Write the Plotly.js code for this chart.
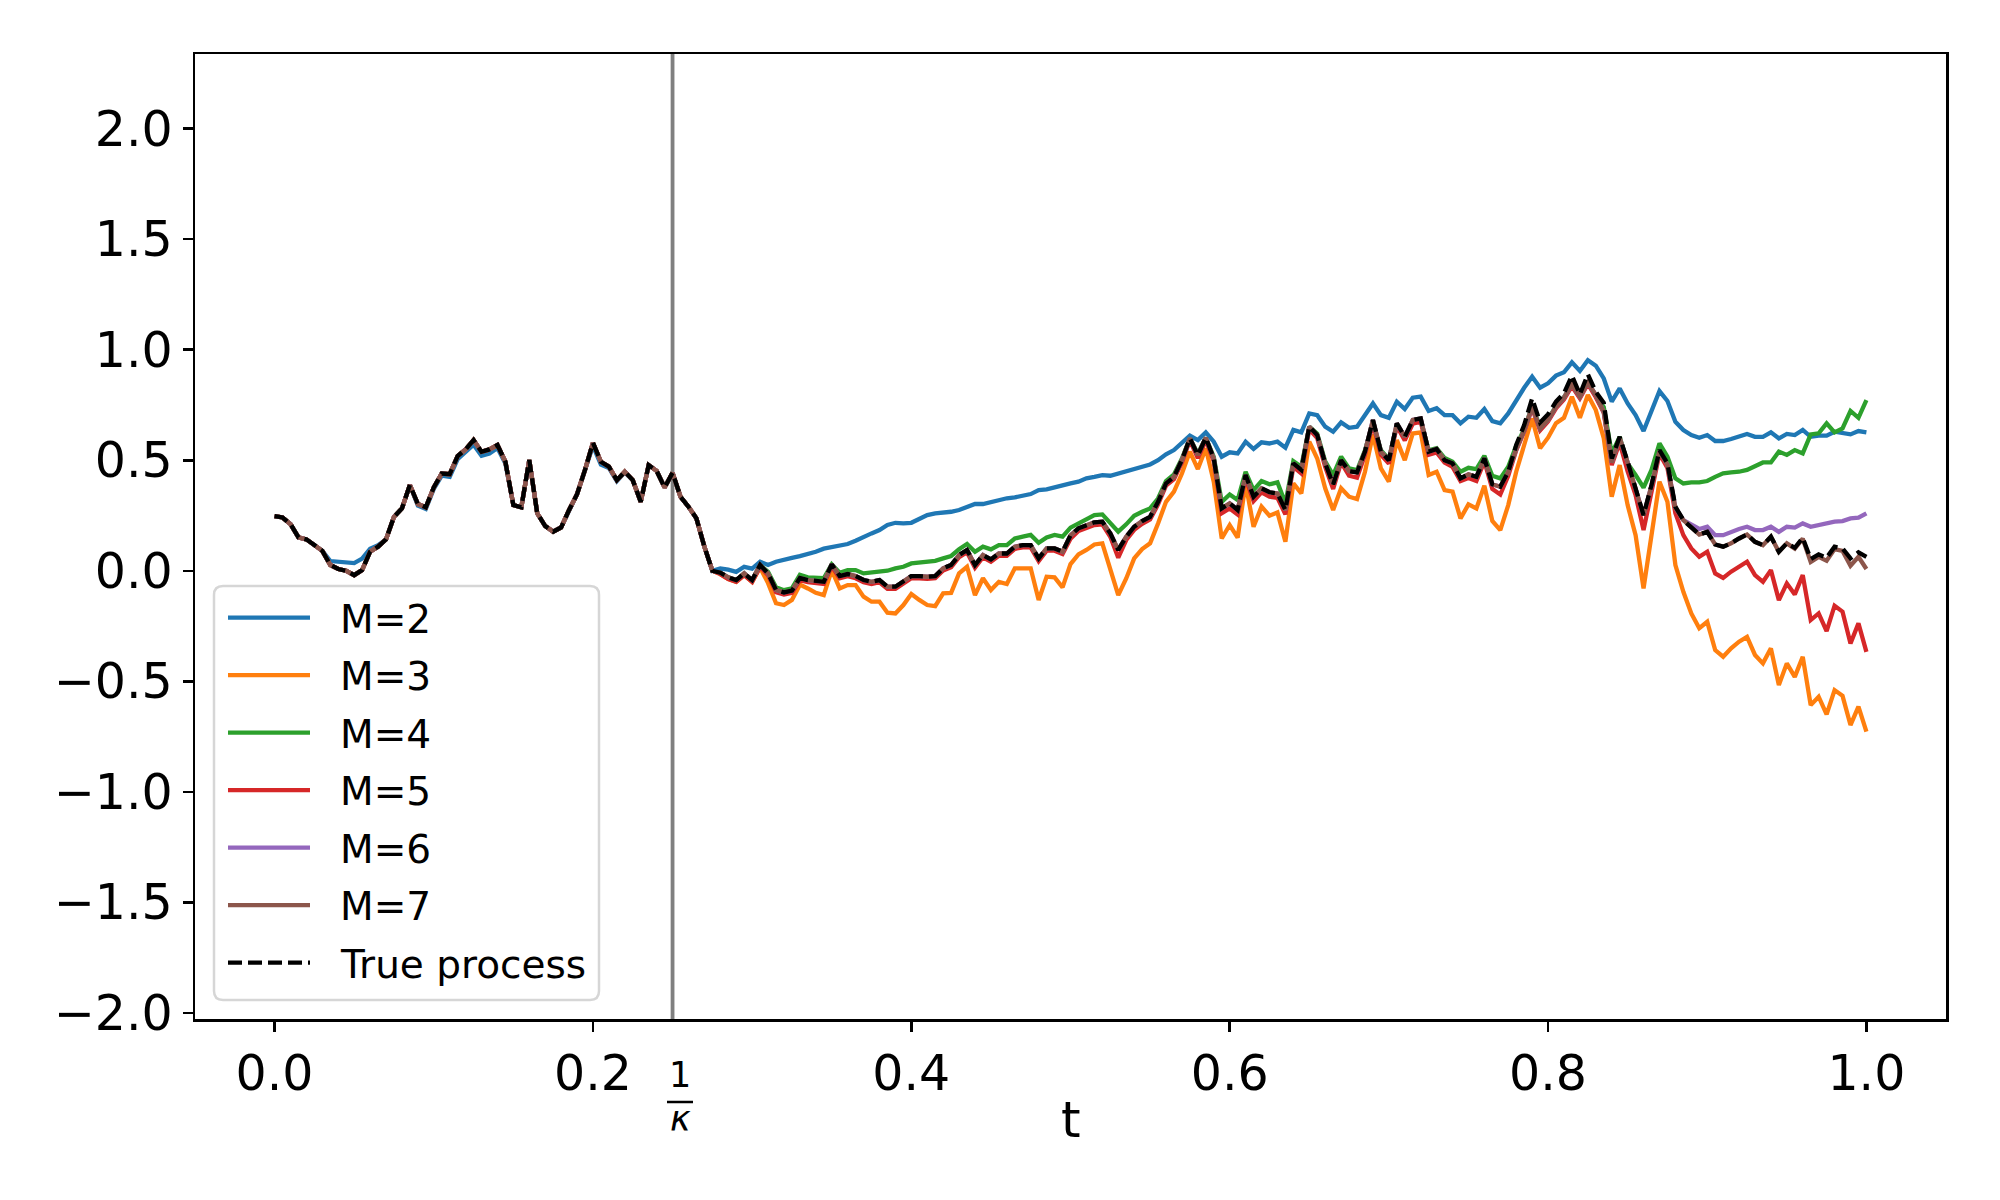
<!DOCTYPE html>
<html>
<head>
<meta charset="utf-8">
<script src="https://cdn.plot.ly/plotly-3.0.1.min.js"></script>
<style>body{margin:0;background:#fff}</style>
</head>
<body>
<div id="myPlot" style="width:2000px;height:1200px"></div>
<script>
// path sampled every dt on [0, 1]; every curve follows the true path up to t = 0.275
const dt = 0.005;
const kappaInv = 0.25;

// t = 0 .. 0.275 (shared by M=3..7 and the true process)
const pathHead = [
  0.247,0.241,0.211,0.151,0.142,0.116,0.09,0.026,0.008,0.0,
  -0.02,0.003,0.086,0.109,0.142,0.244,0.282,0.388,0.302,0.287,
  0.377,0.44,0.437,0.519,0.549,0.591,0.538,0.549,0.569,0.493,
  0.297,0.287,0.501,0.26,0.202,0.177,0.196,0.275,0.346,0.456,
  0.579,0.493,0.471,0.41,0.448,0.41,0.312,0.478,0.452,0.377,
  0.443,0.335,0.29,0.237,0.109,0.0
];
const m2Head = [
  0.247,0.241,0.211,0.151,0.142,0.116,0.09,0.044,0.04,0.04,
  0.035,0.055,0.1,0.115,0.142,0.244,0.282,0.388,0.295,0.28,
  0.37,0.43,0.425,0.505,0.535,0.57,0.52,0.53,0.555,0.485,
  0.297,0.287,0.501,0.26,0.202,0.177,0.196,0.275,0.346,0.456,
  0.565,0.48,0.465,0.405,0.445,0.41,0.312,0.478,0.452,0.377,
  0.443,0.335,0.29,0.237,0.109,0.0
];

// t = 0.28 .. 1.0
const trueTail = [
  -0.009,-0.03,-0.042,-0.012,-0.042,0.026,-0.012,-0.087,-0.098,-0.09,
  -0.033,-0.042,-0.047,-0.05,0.029,-0.024,-0.015,-0.024,-0.042,-0.05,
  -0.042,-0.072,-0.072,-0.05,-0.024,-0.024,-0.027,-0.024,0.011,0.026,
  0.071,0.094,0.026,0.071,0.051,0.078,0.078,0.109,0.116,0.116,
  0.056,0.101,0.101,0.086,0.16,0.192,0.207,0.219,0.222,0.169,
  0.094,0.154,0.199,0.225,0.244,0.312,0.395,0.425,0.501,0.599,
  0.523,0.602,0.508,0.282,0.305,0.275,0.433,0.335,0.373,0.355,
  0.35,0.275,0.486,0.456,0.652,0.614,0.486,0.391,0.5,0.451,
  0.445,0.539,0.682,0.539,0.5,0.667,0.606,0.682,0.689,0.539,
  0.551,0.5,0.486,0.418,0.436,0.425,0.508,0.391,0.38,0.448,
  0.569,0.659,0.78,0.671,0.708,0.765,0.803,0.883,0.798,0.889,
  0.81,0.76,0.508,0.606,0.493,0.373,0.252,0.388,0.546,0.486,
  0.29,0.229,0.199,0.164,0.176,0.119,0.109,0.124,0.146,0.164,
  0.131,0.116,0.154,0.086,0.124,0.104,0.149,0.053,0.074,0.059,
  0.109,0.101,0.056,0.083,0.063
];
const m2Tail = [
  0.01,0.005,-0.005,0.018,0.01,0.041,0.026,0.041,0.052,0.058,
  0.066,0.075,0.086,0.1,0.106,0.112,0.121,0.136,0.154,0.169,
  0.184,0.207,0.217,0.214,0.217,0.232,0.252,0.26,0.263,0.267,
  0.275,0.29,0.302,0.302,0.312,0.32,0.328,0.332,0.338,0.347,
  0.365,0.368,0.377,0.388,0.395,0.403,0.418,0.425,0.433,0.43,
  0.44,0.448,0.46,0.471,0.481,0.5,0.527,0.546,0.576,0.611,
  0.591,0.626,0.584,0.516,0.536,0.531,0.584,0.551,0.581,0.576,
  0.584,0.557,0.637,0.626,0.712,0.704,0.652,0.629,0.671,0.647,
  0.652,0.704,0.757,0.704,0.692,0.765,0.732,0.783,0.788,0.723,
  0.735,0.704,0.704,0.667,0.697,0.692,0.732,0.677,0.667,0.712,
  0.772,0.828,0.878,0.828,0.848,0.883,0.898,0.943,0.904,0.953,
  0.928,0.87,0.765,0.825,0.757,0.704,0.632,0.72,0.813,0.768,
  0.674,0.637,0.614,0.602,0.614,0.587,0.587,0.596,0.606,0.619,
  0.606,0.606,0.626,0.599,0.619,0.614,0.637,0.606,0.611,0.611,
  0.629,0.622,0.617,0.632,0.626
];
const m3Tail = [
  -0.015,-0.038,-0.05,-0.02,-0.05,0.015,-0.056,-0.147,-0.155,-0.132,
  -0.063,-0.08,-0.1,-0.11,0.003,-0.08,-0.065,-0.065,-0.117,-0.14,
  -0.14,-0.19,-0.193,-0.155,-0.105,-0.132,-0.155,-0.16,-0.102,-0.1,
  -0.012,0.018,-0.11,-0.034,-0.087,-0.05,-0.06,0.011,0.011,0.011,
  -0.132,-0.027,-0.03,-0.075,0.03,0.074,0.094,0.119,0.124,0.011,
  -0.11,-0.035,0.056,0.098,0.124,0.214,0.312,0.358,0.44,0.539,
  0.46,0.554,0.403,0.146,0.207,0.15,0.395,0.199,0.29,0.249,
  0.264,0.131,0.395,0.35,0.584,0.508,0.373,0.275,0.373,0.335,
  0.324,0.448,0.617,0.463,0.403,0.591,0.5,0.621,0.626,0.433,
  0.448,0.365,0.358,0.237,0.3,0.282,0.385,0.225,0.184,0.297,
  0.448,0.569,0.689,0.554,0.602,0.667,0.692,0.787,0.692,0.795,
  0.727,0.6,0.335,0.478,0.297,0.161,-0.08,0.161,0.403,0.312,
  0.026,-0.095,-0.193,-0.26,-0.231,-0.359,-0.389,-0.351,-0.321,-0.299,
  -0.381,-0.419,-0.351,-0.517,-0.419,-0.48,-0.389,-0.608,-0.57,-0.65,
  -0.54,-0.566,-0.698,-0.615,-0.728
];
const m4Tail = [
  -0.009,-0.03,-0.042,-0.012,-0.042,0.026,-0.005,-0.075,-0.088,-0.08,
  -0.018,-0.03,-0.034,-0.034,0.029,-0.009,0.003,0.003,-0.012,-0.008,
  -0.004,0.0,0.011,0.018,0.033,0.036,0.041,0.045,0.056,0.067,
  0.097,0.121,0.086,0.109,0.097,0.116,0.116,0.146,0.154,0.162,
  0.127,0.151,0.162,0.154,0.195,0.214,0.229,0.252,0.255,0.214,
  0.177,0.21,0.249,0.267,0.282,0.327,0.406,0.436,0.508,0.599,
  0.53,0.602,0.515,0.312,0.345,0.32,0.448,0.365,0.406,0.391,
  0.4,0.305,0.496,0.471,0.652,0.62,0.495,0.433,0.516,0.463,
  0.455,0.545,0.67,0.545,0.505,0.66,0.6,0.67,0.68,0.545,
  0.555,0.51,0.493,0.448,0.466,0.46,0.52,0.43,0.418,0.471,
  0.565,0.64,0.745,0.65,0.685,0.745,0.785,0.845,0.79,0.855,
  0.79,0.74,0.531,0.606,0.486,0.433,0.376,0.456,0.576,0.516,
  0.418,0.395,0.4,0.4,0.406,0.425,0.441,0.445,0.448,0.456,
  0.471,0.49,0.49,0.539,0.524,0.546,0.531,0.617,0.622,0.667,
  0.626,0.644,0.723,0.692,0.772
];
const m5Tail = [
  -0.015,-0.037,-0.05,-0.02,-0.05,0.018,-0.02,-0.097,-0.108,-0.1,
  -0.043,-0.052,-0.057,-0.06,0.02,-0.034,-0.025,-0.034,-0.052,-0.06,
  -0.052,-0.082,-0.082,-0.06,-0.034,-0.034,-0.037,-0.034,0.001,0.016,
  0.061,0.084,0.014,0.061,0.041,0.068,0.068,0.099,0.106,0.106,
  0.044,0.091,0.091,0.076,0.145,0.18,0.195,0.207,0.21,0.154,
  0.059,0.139,0.185,0.212,0.232,0.3,0.385,0.415,0.49,0.59,
  0.51,0.59,0.495,0.26,0.282,0.255,0.42,0.315,0.355,0.335,
  0.33,0.255,0.47,0.44,0.64,0.6,0.47,0.37,0.49,0.43,
  0.421,0.525,0.665,0.525,0.485,0.655,0.59,0.665,0.675,0.525,
  0.535,0.49,0.47,0.406,0.42,0.406,0.495,0.37,0.345,0.43,
  0.545,0.63,0.735,0.635,0.675,0.735,0.775,0.835,0.78,0.845,
  0.785,0.715,0.478,0.58,0.45,0.342,0.184,0.36,0.53,0.465,
  0.26,0.161,0.101,0.063,0.086,-0.012,-0.032,-0.004,0.018,0.041,
  -0.02,-0.05,0.003,-0.133,-0.057,-0.107,-0.02,-0.223,-0.193,-0.273,
  -0.158,-0.185,-0.329,-0.238,-0.367
];
const m6Tail = [
  -0.009,-0.03,-0.042,-0.012,-0.042,0.026,-0.012,-0.087,-0.098,-0.09,
  -0.033,-0.042,-0.047,-0.05,0.029,-0.024,-0.015,-0.024,-0.042,-0.05,
  -0.042,-0.072,-0.072,-0.05,-0.024,-0.024,-0.027,-0.024,0.011,0.026,
  0.071,0.094,0.026,0.071,0.051,0.078,0.078,0.109,0.116,0.116,
  0.056,0.101,0.101,0.086,0.16,0.192,0.207,0.219,0.222,0.169,
  0.094,0.154,0.199,0.225,0.244,0.312,0.395,0.425,0.501,0.599,
  0.523,0.602,0.508,0.282,0.305,0.275,0.433,0.335,0.373,0.355,
  0.35,0.275,0.486,0.456,0.652,0.614,0.486,0.391,0.5,0.451,
  0.445,0.539,0.682,0.539,0.5,0.667,0.606,0.682,0.689,0.539,
  0.551,0.5,0.486,0.418,0.436,0.425,0.508,0.391,0.38,0.448,
  0.55,0.635,0.742,0.644,0.682,0.742,0.783,0.843,0.787,0.852,
  0.795,0.72,0.49,0.6,0.49,0.37,0.25,0.385,0.54,0.48,
  0.285,0.229,0.207,0.189,0.199,0.161,0.161,0.176,0.189,0.199,
  0.184,0.184,0.199,0.176,0.199,0.195,0.214,0.199,0.207,0.214,
  0.222,0.225,0.237,0.24,0.26
];
const m7Tail = [
  -0.009,-0.03,-0.042,-0.012,-0.042,0.026,-0.012,-0.087,-0.098,-0.09,
  -0.033,-0.042,-0.047,-0.05,0.029,-0.024,-0.015,-0.024,-0.042,-0.05,
  -0.042,-0.072,-0.072,-0.05,-0.024,-0.024,-0.027,-0.024,0.011,0.026,
  0.071,0.094,0.026,0.071,0.051,0.078,0.078,0.109,0.116,0.116,
  0.056,0.101,0.101,0.086,0.16,0.192,0.207,0.219,0.222,0.169,
  0.094,0.154,0.199,0.225,0.244,0.312,0.395,0.425,0.501,0.599,
  0.523,0.602,0.508,0.282,0.305,0.275,0.433,0.335,0.373,0.355,
  0.35,0.275,0.486,0.456,0.652,0.614,0.486,0.391,0.5,0.451,
  0.445,0.539,0.682,0.539,0.5,0.667,0.606,0.682,0.689,0.539,
  0.551,0.5,0.486,0.418,0.436,0.425,0.508,0.391,0.38,0.448,
  0.55,0.635,0.742,0.644,0.682,0.742,0.783,0.843,0.787,0.852,
  0.795,0.72,0.49,0.6,0.49,0.37,0.25,0.385,0.54,0.48,
  0.285,0.229,0.199,0.164,0.176,0.119,0.109,0.124,0.146,0.164,
  0.131,0.116,0.154,0.086,0.124,0.1,0.145,0.04,0.063,0.045,
  0.098,0.09,0.023,0.063,0.008
];

const names = ["M=2", "M=3", "M=4", "M=5", "M=6", "M=7", "True process"];
const colors = ["#1f77b4", "#ff7f0e", "#2ca02c", "#d62728", "#9467bd", "#8c564b", "#000000"];
const series = [
  m2Head.concat(m2Tail),
  pathHead.concat(m3Tail),
  pathHead.concat(m4Tail),
  pathHead.concat(m5Tail),
  pathHead.concat(m6Tail),
  pathHead.concat(m7Tail),
  pathHead.concat(trueTail)
];

const xTicks = [0, 0.2, 0.4, 0.6, 0.8, 1.0];
const xTickText = ["0.0", "0.2", "0.4", "0.6", "0.8", "1.0"];
const yTicks = [-2, -1.5, -1, -0.5, 0, 0.5, 1, 1.5, 2];
const yTickText = ["\u22122.0", "\u22121.5", "\u22121.0", "\u22120.5", "0.0", "0.5", "1.0", "1.5", "2.0"];

const t = series[0].map((_, i) => +(i * dt).toFixed(3));

const font = "DejaVu Sans, Arial, sans-serif";
const lw = 4.3;
const dashed = "14px,6px";

const data = series.map((y, k) => ({
  x: t, y: y, type: "scatter", mode: "lines", name: names[k],
  line: {color: colors[k], width: lw, dash: k === 6 ? dashed : "solid"},
  showlegend: false, hoverinfo: "skip"
}));

// plot area in pixels, used to place the hand-made legend and labels
const W = 2000, H = 1200, L = 195, R = 1946, T = 54, B = 1019;
const px = x => (x - L) / (R - L);
const py = y => (B - y) / (B - T);

const shapes = [
  {type: "line", xref: "x", yref: "paper", x0: kappaInv, x1: kappaInv, y0: 0, y1: 1,
   line: {color: "#808080", width: 3.8}, layer: "below"},
  // fraction bar of 1/kappa
  {type: "line", xref: "paper", yref: "paper", x0: px(667), x1: px(693), y0: py(1102), y1: py(1102),
   line: {color: "#000", width: 2.5}}
];

// legend frame with rounded corners
const lx0 = px(214), lx1 = px(599), ly0 = py(1000), ly1 = py(586);
const rx = 9 / (R - L), ry = 9 / (B - T);
shapes.push({
  type: "path", xref: "paper", yref: "paper",
  path: `M ${lx0 + rx},${ly1} L ${lx1 - rx},${ly1} Q ${lx1},${ly1} ${lx1},${ly1 - ry} ` +
        `L ${lx1},${ly0 + ry} Q ${lx1},${ly0} ${lx1 - rx},${ly0} L ${lx0 + rx},${ly0} ` +
        `Q ${lx0},${ly0} ${lx0},${ly0 + ry} L ${lx0},${ly1 - ry} Q ${lx0},${ly1} ${lx0 + rx},${ly1} Z`,
  fillcolor: "rgba(255,255,255,0.8)", line: {color: "#d6d6d6", width: 2.5}
});

// numerator and denominator of 1/kappa, kept far enough apart that their boxes do not touch
const fracSize = 35;
const annotations = [
  {text: "t", xref: "paper", yref: "paper", x: 0.5, y: py(1120), showarrow: false,
   xanchor: "center", yanchor: "middle", font: {family: font, size: 50, color: "#000"}},
  {text: "1", xref: "paper", yref: "paper", x: px(680), y: py(1075), showarrow: false,
   xanchor: "center", yanchor: "middle", borderpad: 0, font: {family: font, size: fracSize, color: "#000"}},
  {text: "<i>\u03ba</i>", xref: "paper", yref: "paper", x: px(680), y: py(1119), showarrow: false,
   xanchor: "center", yanchor: "middle", borderpad: 0, font: {family: font, size: fracSize, color: "#000"}}
];

names.forEach((name, k) => {
  const yy = 617.7 + 57.5 * k;
  shapes.push({type: "line", xref: "paper", yref: "paper", x0: px(228), x1: px(310), y0: py(yy), y1: py(yy),
    line: {color: colors[k], width: lw, dash: k === 6 ? dashed : "solid"}});
  annotations.push({text: name, xref: "paper", yref: "paper", x: px(338), y: py(yy + 1.5), showarrow: false,
    xanchor: "left", yanchor: "middle", font: {family: font, size: 39, color: "#000"}});
});

const axisCommon = {
  showgrid: false, zeroline: false, showline: true, mirror: true,
  linecolor: "#000", linewidth: 2.5, ticks: "outside", ticklen: 10, tickwidth: 2.5, tickcolor: "#000",
  tickfont: {family: font, size: 49, color: "#000"}
};

const layout = {
  width: W, height: H,
  margin: {l: L, r: W - R, t: T, b: H - B},
  paper_bgcolor: "#fff", plot_bgcolor: "#fff",
  xaxis: Object.assign({}, axisCommon, {range: [-0.05, 1.05], tickmode: "array", tickvals: xTicks, ticktext: xTickText}),
  yaxis: Object.assign({}, axisCommon, {range: [-2.028, 2.338], tickmode: "array", tickvals: yTicks, ticktext: yTickText}),
  shapes: shapes,
  annotations: annotations
};

Plotly.newPlot("myPlot", data, layout, {staticPlot: true});
</script>
</body>
</html>
